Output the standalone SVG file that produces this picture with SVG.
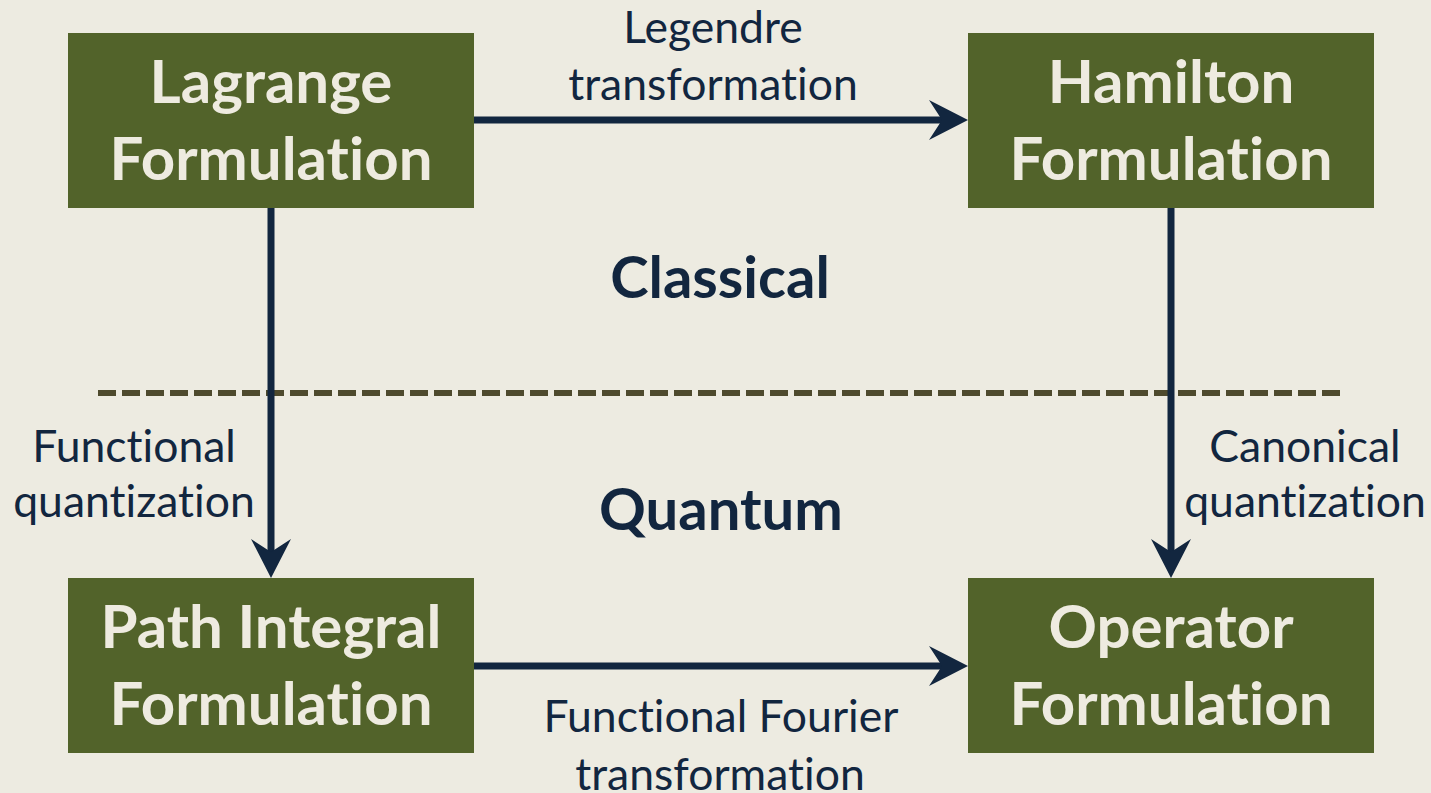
<svg xmlns="http://www.w3.org/2000/svg" width="1431" height="793" viewBox="0 0 1431 793">
<defs>
<style>
text{font-variant-ligatures:none;font-feature-settings:"liga" 0,"clig" 0}
.box{fill:#52632a}
.bt{font-family:Lato,"Open Sans",sans-serif;font-weight:bold;font-size:60px;fill:#eeebe0;text-anchor:middle}
.lbl{font-family:Lato,"Open Sans",sans-serif;font-size:44.5px;fill:#12263f;text-anchor:middle}
.hd{font-family:Lato,"Open Sans",sans-serif;font-weight:bold;font-size:58px;fill:#12263f;text-anchor:middle}
.con{fill:none;stroke:#12263f;stroke-width:7}
</style>
<marker id="ah" viewBox="-16 -21 41 42" markerWidth="41" markerHeight="42" refX="0" refY="0" orient="auto" markerUnits="userSpaceOnUse">
<path d="M24,0 L-15,-20 L-2,0 L-15,20 Z" fill="#12263f"/>
</marker>
</defs>
<rect width="1431" height="793" fill="#edebe1"/>
<line x1="98" y1="393" x2="1341" y2="393" stroke="#4e4a2d" stroke-width="6" stroke-dasharray="18 6"/>
<g id="connectors">
<path class="con" d="M474,120 H944" marker-end="url(#ah)"/>
<path class="con" d="M474,666 H944" marker-end="url(#ah)"/>
<path class="con" d="M271,208 V554" marker-end="url(#ah)"/>
<path class="con" d="M1171,208 V554" marker-end="url(#ah)"/>
</g>
<g id="lagrange">
<rect class="box" x="68" y="33" width="406" height="175"/>
<text class="bt" x="271" y="103">Lagrange</text>
<text class="bt" x="271" y="180">Formulation</text>
</g>
<g id="hamilton">
<rect class="box" x="968" y="33" width="406" height="175"/>
<text class="bt" x="1171" y="103">Hamilton</text>
<text class="bt" x="1171" y="180">Formulation</text>
</g>
<g id="pathintegral">
<rect class="box" x="68" y="578" width="406" height="175"/>
<text class="bt" x="271" y="648">Path Integral</text>
<text class="bt" x="271" y="725">Formulation</text>
</g>
<g id="operator">
<rect class="box" x="968" y="578" width="406" height="175"/>
<text class="bt" x="1171" y="648">Operator</text>
<text class="bt" x="1171" y="725">Formulation</text>
</g>
<g id="labels">
<text class="lbl" x="713" y="43">Legendre</text>
<text class="lbl" x="713" y="100">transformation</text>
<text class="lbl" x="134" y="462">Functional</text>
<text class="lbl" x="134" y="517">quantization</text>
<text class="lbl" x="1305" y="462">Canonical</text>
<text class="lbl" x="1305" y="517">quantization</text>
<text class="lbl" x="721" y="732">Functional Fourier</text>
<text class="lbl" x="720" y="790">transformation</text>
<text class="hd" x="720" y="298">Classical</text>
<text class="hd" x="721" y="530">Quantum</text>
</g>
</svg>
